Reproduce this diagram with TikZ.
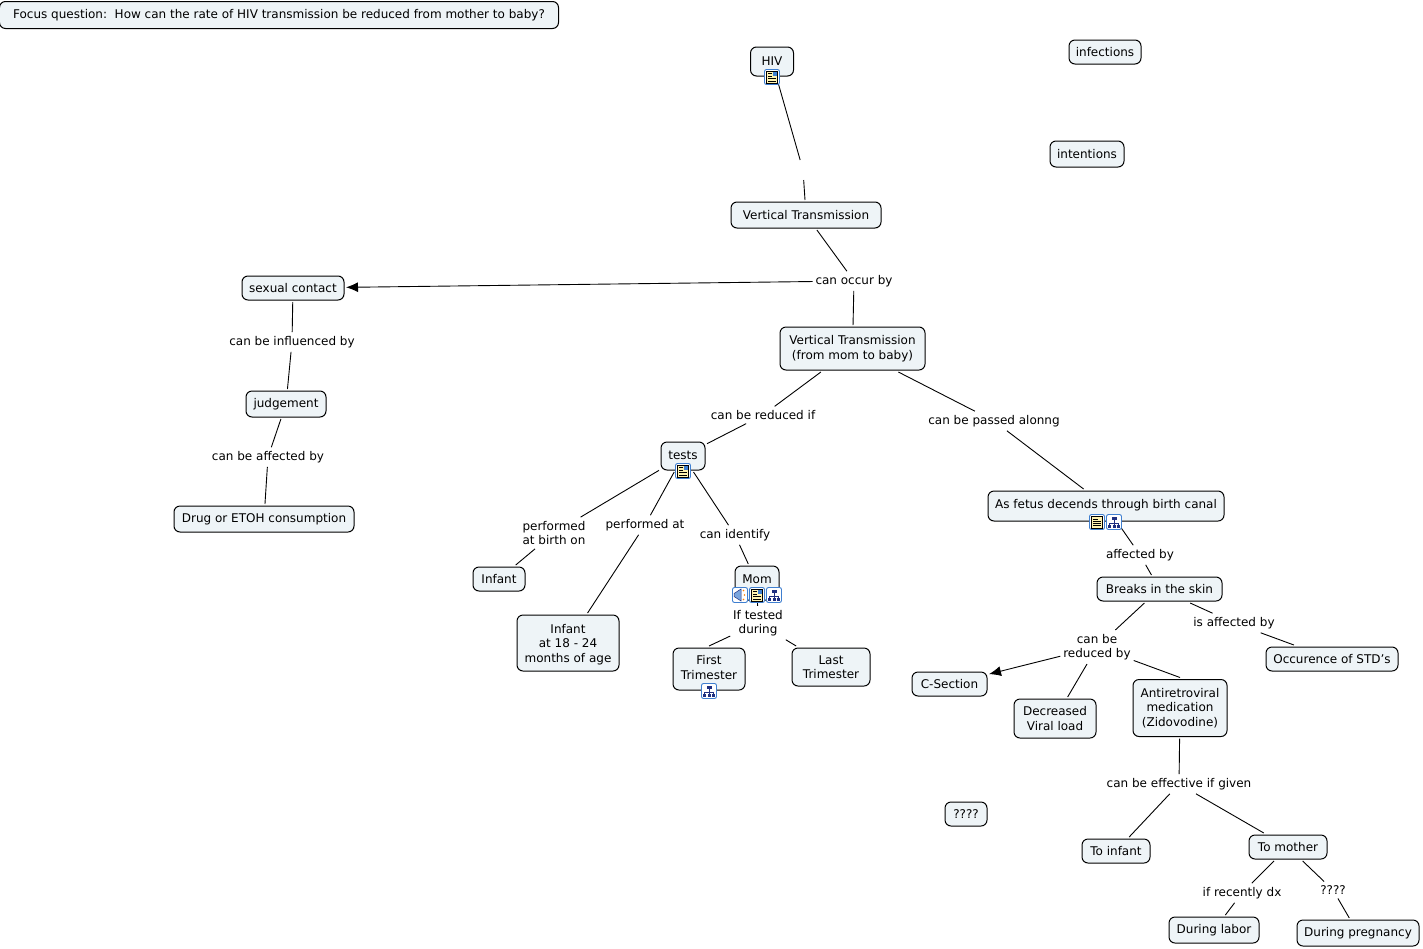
\documentclass[tikz,border=0pt]{standalone}
\usepackage{fontspec}
\usetikzlibrary{arrows.meta}
\setmainfont{DejaVu Sans}
\definecolor{conceptfill}{HTML}{EEF4F7}
\definecolor{iconblue}{HTML}{3F7FD0}
\definecolor{iconnavy}{HTML}{1F2F80}
\definecolor{iconpaper}{HTML}{FFF3B0}
\tikzset{
  concept/.style={draw=black,fill=conceptfill,rounded corners=6pt,align=center,inner sep=0pt,line width=1pt,outer sep=2pt,font=\fontsize{12}{14.5}\selectfont},
  linking/.style={align=center,inner xsep=2pt,inner ysep=3pt,outer sep=1pt,font=\fontsize{12}{14.5}\selectfont},
  link/.style={draw=black,line width=0.9pt},
  linkarrow/.style={link,-{Latex[length=12pt,width=10pt]}},
  iconframe/.style={draw=iconblue,fill=white,rounded corners=2pt,line width=0.9pt},
  pics/iconimage/.style={code={
    \draw[iconframe] (-7.5,-7.5) rectangle (7.5,7.5);
    \fill[iconpaper,draw=black,line width=0.5pt] (-5.5,-6) rectangle (5.5,6);
    \draw[black,line width=0.6pt] (-4,-3.5) -- (0,-3.5) (-4,-1) -- (0,-1) (-4,1.5) -- (4,1.5) (-4,3.8) -- (4,3.8);
    \fill[iconblue] (0.8,-5) rectangle (4.5,-1);
  }},
  pics/iconnote/.style={code={
    \draw[iconframe] (-7.5,-7.5) rectangle (7.5,7.5);
    \fill[iconpaper,draw=black,line width=0.5pt] (-5.5,-6) rectangle (5.5,6);
    \draw[black,line width=0.6pt] (-4,-3) -- (1,-3) (-4,-1) -- (4,-1) (-4,1) -- (4,1) (-4,3) -- (4,3);
  }},
  pics/iconmap/.style={code={
    \draw[iconframe] (-7.5,-7.5) rectangle (7.5,7.5);
    \draw[iconnavy,line width=0.7pt] (0,-3) -- (0,3) (-4.5,3.5) -- (-4.5,1) -- (4.5,1) -- (4.5,3.5);
    \fill[iconnavy] (-2.5,-5.5) rectangle (2.5,-2.5);
    \fill[iconnavy] (-6,3) rectangle (-3,5.5);
    \fill[iconnavy] (-1.5,3) rectangle (1.5,5.5);
    \fill[iconnavy] (3,3) rectangle (6,5.5);
  }},
  pics/iconsound/.style={code={
    \draw[iconframe] (-7.5,-7.5) rectangle (7.5,7.5);
    \fill[iconblue!70!white,draw=iconnavy,line width=0.5pt] (-6,-1.5) -- (1,-6) -- (1,6) -- (-6,1.5) -- cycle;
    \fill[orange] (3.5,-4.5) circle (0.9) (4.5,0) circle (0.9) (3.5,4.5) circle (0.9);
  }},
}
\begin{document}
\begin{tikzpicture}[x=1pt,y=-1pt]
\useasboundingbox (0,0) rectangle (1423,948);
\node[concept,minimum width=559pt,minimum height=27pt] (focus) at (279,15) {Focus question:\ \ How can the rate of HIV transmission be reduced from mother to baby?};
\node[concept,minimum width=43pt,minimum height=29pt,text depth=0pt] (hiv) at (772,61.5) {HIV};
\node[concept,minimum width=72pt,minimum height=24pt] (infections) at (1105,52) {infections};
\node[concept,minimum width=74pt,minimum height=26pt] (intentions) at (1087,154) {intentions};
\node[concept,minimum width=150pt,minimum height=26pt] (vertical) at (806,215) {Vertical Transmission};
\node[concept,minimum width=102pt,minimum height=24pt] (sexual) at (293,288) {sexual contact};
\node[concept,minimum width=145pt,minimum height=43pt] (verticalmom) at (852.5,348.5) {Vertical Transmission\\(from mom to baby)};
\node[concept,minimum width=80pt,minimum height=26pt] (judgement) at (286,404) {judgement};
\node[concept,minimum width=180pt,minimum height=26pt] (drug) at (264,519) {Drug or ETOH consumption};
\node[concept,minimum width=44pt,minimum height=28pt,text depth=2pt] (tests) at (683,456) {tests};
\node[concept,minimum width=236pt,minimum height=30pt,text depth=4pt] (fetus) at (1106,506) {As fetus decends through birth canal};
\node[concept,minimum width=52pt,minimum height=24pt] (infant) at (499,579) {Infant};
\node[concept,minimum width=102pt,minimum height=56pt,text depth=0pt] (infantage) at (568,643) {Infant\\at 18 - 24\\months of age};
\node[concept,minimum width=44pt,minimum height=34pt,text depth=8pt] (mom) at (757,583) {Mom};
\node[concept,minimum width=72pt,minimum height=42pt,text depth=3pt] (first) at (709,669) {First\\Trimester};
\node[concept,minimum width=78pt,minimum height=38pt] (last) at (831,667) {Last\\Trimester};
\node[concept,minimum width=125pt,minimum height=24pt] (breaks) at (1159.5,589) {Breaks in the skin};
\node[concept,minimum width=132pt,minimum height=24pt] (std) at (1332,659) {Occurence of STD's};
\node[concept,minimum width=75pt,minimum height=24pt] (csection) at (949.5,684) {C-Section};
\node[concept,minimum width=82pt,minimum height=39pt] (viral) at (1055,718.5) {Decreased\\Viral load};
\node[concept,minimum width=94pt,minimum height=57pt] (medication) at (1180,708) {Antiretroviral\\medication\\(Zidovodine)};
\node[concept,minimum width=42pt,minimum height=24pt] (unknown) at (966,814) {????};
\node[concept,minimum width=68pt,minimum height=24pt] (toinfant) at (1116,851) {To infant};
\node[concept,minimum width=78pt,minimum height=24pt] (tomother) at (1288,847) {To mother};
\node[concept,minimum width=90pt,minimum height=26pt] (labor) at (1214,930) {During labor};
\node[concept,minimum width=122pt,minimum height=26pt] (pregnancy) at (1358,933) {During pregnancy};
\node[linking,minimum width=4pt,minimum height=18pt] (blank) at (803,170) {};
\node[linking] (occur) at (854,281) {can occur by};
\node[linking] (influenced) at (292,342) {can be influenced by};
\node[linking] (affected) at (268,457) {can be affected by};
\node[linking] (reducedif) at (763,415) {can be reduced if};
\node[linking] (passed) at (994,421) {can be passed alonng};
\node[linking] (birthon) at (554,533) {performed\\at birth on};
\node[linking] (performed) at (645,525) {performed at};
\node[linking] (identify) at (735,535) {can identify};
\node[linking] (tested) at (758,623) {If tested\\during};
\node[linking] (affectedby) at (1140,555) {affected by};
\node[linking] (isaffected) at (1234,623) {is affected by};
\node[linking] (reducedby) at (1097,647) {can be\\reduced by};
\node[linking] (effective) at (1179,784) {can be effective if given};
\node[linking] (recently) at (1242,893) {if recently dx};
\node[linking] (question) at (1333,890) {????};
\draw[link] (hiv) -- (blank);
\draw[link] (blank) -- (vertical);
\draw[link] (vertical) -- (occur);
\draw[linkarrow] (occur) -- (sexual);
\draw[link] (occur) -- (verticalmom);
\draw[link] (sexual) -- (influenced);
\draw[link] (influenced) -- (judgement);
\draw[link] (judgement) -- (affected);
\draw[link] (affected) -- (drug);
\draw[link] (verticalmom) -- (reducedif);
\draw[link] (reducedif) -- (tests);
\draw[link] (verticalmom) -- (passed);
\draw[link] (passed) -- (fetus);
\draw[link] (tests) -- (birthon);
\draw[link] (birthon) -- (infant);
\draw[link] (tests) -- (performed);
\draw[link] (performed) -- (infantage);
\draw[link] (tests) -- (identify);
\draw[link] (identify) -- (mom);
\draw[link] (mom) -- (tested);
\draw[link] (tested) -- (first.north);
\draw[link] (tested) -- (last);
\draw[link] (fetus) -- (affectedby);
\draw[link] (affectedby) -- (breaks);
\draw[link] (breaks) -- (reducedby);
\draw[linkarrow] (reducedby) -- (csection);
\draw[link] (reducedby) -- (viral);
\draw[link] (reducedby) -- (medication.north);
\draw[link] (breaks) -- (isaffected);
\draw[link] (isaffected) -- (std);
\draw[link] (medication) -- (effective);
\draw[link] (effective) -- (toinfant);
\draw[link] (effective) -- (tomother);
\draw[link] (tomother) -- (recently);
\draw[link] (recently) -- (labor);
\draw[link] (tomother) -- (question);
\draw[link] (question) -- (pregnancy);
\pic at (772,77) {iconimage};
\pic at (683,471) {iconimage};
\pic at (1097,522) {iconnote};
\pic at (1114,522) {iconmap};
\pic at (740,595) {iconsound};
\pic at (757,595) {iconimage};
\pic at (774,595) {iconmap};
\pic at (709,691) {iconmap};
\end{tikzpicture}
\end{document}
